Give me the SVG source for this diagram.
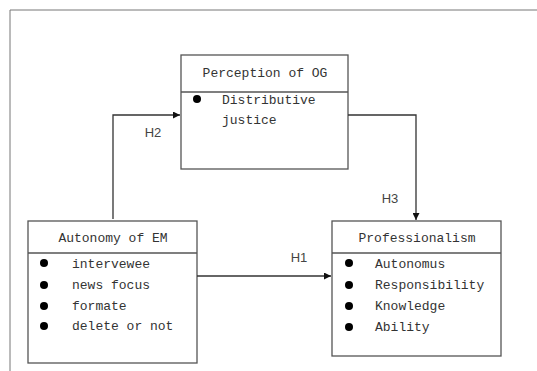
<svg xmlns="http://www.w3.org/2000/svg" width="537" height="371" viewBox="0 0 537 371">
<defs>
<style>
.box{fill:#fff;stroke:#555;stroke-width:1.3}
.div{stroke:#555;stroke-width:1.3}
.t{font-family:"Liberation Mono","Noto Sans CJK SC",monospace;font-size:13px;fill:#333}
.c{text-anchor:middle}
.lbl{font-family:"Liberation Sans",Arial,sans-serif;font-size:13px;fill:#444;text-anchor:middle}
.bul{fill:#000}
.con{fill:none;stroke:#333;stroke-width:1.3}
</style>
<marker id="ah" viewBox="0 0 10 10" refX="10" refY="5" markerWidth="7" markerHeight="7" markerUnits="userSpaceOnUse" orient="auto">
<path d="M0,0 L10,5 L0,10 z" fill="#111"/>
</marker>
</defs>
<rect width="537" height="371" fill="#fff"/>
<g id="frame">
<path d="M10,371 V10 H537" fill="none" stroke="#777" stroke-width="1"/>
</g>
<g id="perception">
<rect class="box" x="181" y="55" width="167" height="114"/>
<line class="div" x1="181" y1="92" x2="348" y2="92"/>
<text class="t c" x="265" y="77">Perception of OG</text>
<circle class="bul" cx="197" cy="99" r="4"/>
<text class="t" x="222" y="104">Distributive</text>
<text class="t" x="222" y="124">justice</text>
</g>
<g id="autonomy">
<rect class="box" x="28" y="221" width="169" height="142"/>
<line class="div" x1="28" y1="253" x2="197" y2="253"/>
<text class="t c" x="113" y="242">Autonomy of EM</text>
<circle class="bul" cx="44" cy="263" r="4"/>
<text class="t" x="72" y="268">intervewee</text>
<circle class="bul" cx="44" cy="285" r="4"/>
<text class="t" x="72" y="289">news focus</text>
<circle class="bul" cx="44" cy="306" r="4"/>
<text class="t" x="72" y="310">formate</text>
<circle class="bul" cx="44" cy="326" r="4"/>
<text class="t" x="72" y="330">delete or not</text>
</g>
<g id="professionalism">
<rect class="box" x="332" y="221" width="169" height="135"/>
<line class="div" x1="332" y1="253" x2="501" y2="253"/>
<text class="t c" x="417" y="242">Professionalism</text>
<circle class="bul" cx="349" cy="263" r="4"/>
<text class="t" x="375" y="268">Autonomus</text>
<circle class="bul" cx="349" cy="285" r="4"/>
<text class="t" x="375" y="289">Responsibility</text>
<circle class="bul" cx="349" cy="306" r="4"/>
<text class="t" x="375" y="310">Knowledge</text>
<circle class="bul" cx="349" cy="327" r="4"/>
<text class="t" x="375" y="331">Ability</text>
</g>
<g id="connectors">
<path class="con" d="M113,219 V115 H180" marker-end="url(#ah)"/>
<text class="lbl" x="153" y="137">H2</text>
<path class="con" d="M348,115 H416 V220" marker-end="url(#ah)"/>
<text class="lbl" x="390" y="203">H3</text>
<path class="con" d="M197,276 H331" marker-end="url(#ah)"/>
<text class="lbl" x="299" y="262">H1</text>
</g>
</svg>
